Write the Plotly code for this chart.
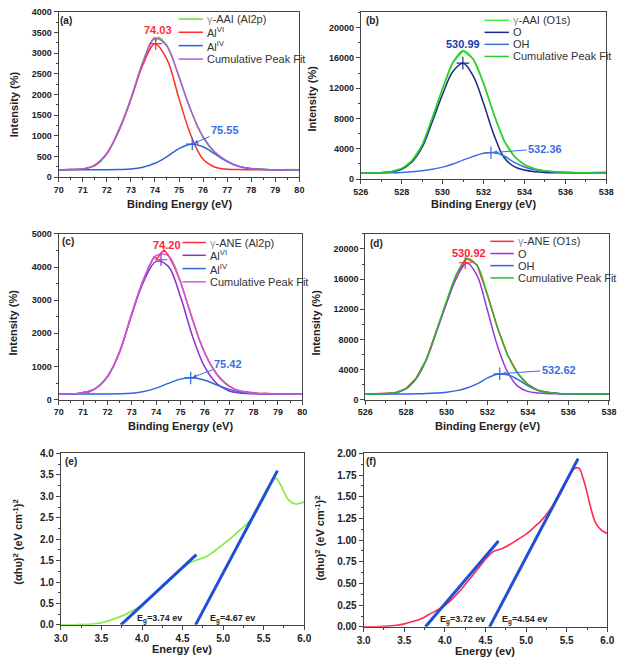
import plotly.graph_objects as go

W, H = 627, 664
FONT = "Liberation Sans, Arial, Helvetica, sans-serif"

# ------------------------------------------------------------------ DATA
AL_X = [70.0, 70.5, 71.0, 71.5, 72.0, 72.5, 73.0, 73.5, 74.0, 74.5, 75.0,
        75.5, 76.0, 76.5, 77.0, 77.5, 78.0, 78.5, 79.0, 79.5, 80.0]
O_X = [526.0, 526.5, 527.0, 527.5, 528.0, 528.5, 529.0, 529.5, 530.0, 530.5,
       531.0, 531.5, 532.0, 532.5, 533.0, 533.5, 534.0, 534.5, 535.0, 535.5,
       536.0, 536.5, 537.0, 537.5, 538.0]

# (a) gamma-AAI Al2p
a_data_x = [70.0, 70.25, 70.5, 70.75, 71.0, 71.25, 71.5, 71.75, 72.0, 72.25, 72.5,
            72.75, 73.0, 73.25, 73.5, 73.75, 73.95, 74.03, 74.15, 74.3, 74.5, 74.75,
            75.0, 75.25, 75.5, 75.75, 76.0, 76.25, 76.5, 76.75, 77.0, 77.25, 77.5,
            77.75, 78.0, 78.25, 78.5, 78.75, 79.0, 79.25, 79.5, 79.75, 80.0]
a_data = [170, 182, 178, 190, 192, 230, 270, 380, 565, 820, 1140, 1490, 1900, 2360,
          2800, 3180, 3370, 3290, 3390, 3330, 3190, 2840, 2450, 2000, 1620, 1230, 950,
          740, 580, 470, 395, 300, 255, 220, 210, 195, 190, 182, 180, 172, 185, 178, 180]
a_alvi = [178, 183, 195, 290, 570, 1120, 1880, 2720, 3230, 2850, 1900, 1000, 430, 240,
          192, 182, 180, 178, 178, 178, 178]
a_aliv = [175, 176, 177, 178, 180, 185, 195, 240, 335, 495, 690, 795, 735, 556, 375,
          255, 205, 185, 180, 178, 178]
a_fit = [178, 182, 195, 292, 572, 1125, 1897, 2782, 3360, 3170, 2420, 1600, 980, 600,
         385, 260, 205, 186, 180, 178, 178]
a_peak_x = [74.03, 75.55]
a_peak_y = [3230, 800]

# (b) gamma-AAI O1s
b_data = [780, 820, 860, 1000, 1390, 2420, 4480, 8120, 11950, 15400, 16920, 15850,
          12650, 8580, 5120, 3020, 1880, 1360, 1080, 960, 880, 860, 880, 920, 950]
b_o = [800, 810, 840, 980, 1300, 2250, 4200, 7600, 11200, 14200, 15300, 13600, 10000,
       5900, 2850, 1650, 1200, 980, 880, 840, 820, 810, 810, 800, 800]
b_oh = [800, 800, 810, 830, 870, 960, 1100, 1300, 1580, 1980, 2500, 3000, 3400, 3500,
        3050, 2200, 1600, 1230, 1020, 920, 870, 840, 820, 810, 810]
b_fit = [800, 810, 850, 1010, 1370, 2410, 4500, 8100, 11980, 15380, 16950, 15800,
         12600, 8600, 5100, 3000, 1900, 1350, 1090, 960, 890, 850, 830, 810, 810]
b_peak_x = [530.99, 532.36]
b_peak_y = [15300, 3480]

# (c) gamma-ANE Al2p
c_data_x = [70.0, 70.25, 70.5, 70.75, 71.0, 71.25, 71.5, 71.75, 72.0, 72.25, 72.5,
            72.75, 73.0, 73.25, 73.5, 73.75, 73.9, 74.05, 74.2, 74.33, 74.5, 74.75,
            75.0, 75.25, 75.5, 75.75, 76.0, 76.25, 76.5, 76.75, 77.0, 77.25, 77.5,
            77.75, 78.0, 78.25, 78.5, 78.75, 79.0, 79.25, 79.5, 79.75, 80.0]
c_data = [175, 168, 182, 178, 220, 232, 330, 470, 690, 1010, 1440, 1990, 2600, 3150,
          3660, 4050, 4300, 4260, 4420, 4510, 4360, 4000, 3560, 2980, 2400, 1860, 1400,
          1040, 760, 560, 410, 310, 255, 225, 200, 186, 190, 175, 165, 180, 168, 175, 170]
c_alvi = [170, 175, 212, 335, 690, 1430, 2580, 3580, 4170, 4020, 3100, 1900, 980, 480,
          260, 195, 176, 171, 170, 170, 170]
c_aliv = [170, 170, 170, 170, 171, 177, 196, 248, 348, 491, 619, 658, 584, 443, 310,
          226, 188, 174, 170, 170, 170]
c_fit = [170, 175, 212, 335, 691, 1437, 2606, 3658, 4348, 4341, 3549, 2388, 1394, 753,
         400, 251, 194, 175, 170, 170, 170]
c_peak_x = [74.20, 75.42]
c_peak_y = [4220, 655]

# (d) gamma-ANE O1s
d_data = [720, 780, 820, 930, 1480, 2850, 5330, 9150, 13100, 16700, 18750, 17900,
          14050, 9650, 5950, 3520, 2050, 1230, 980, 820, 800, 760, 780, 740, 760]
d_o = [750, 758, 785, 935, 1430, 2780, 5250, 8950, 12800, 16200, 18150, 16500, 12000,
       7200, 3700, 1800, 1100, 880, 800, 770, 760, 755, 750, 750, 750]
d_oh = [730, 730, 735, 740, 750, 770, 810, 880, 1000, 1200, 1550, 2100, 2850, 3380,
        3320, 2700, 1850, 1250, 950, 830, 780, 760, 750, 750, 750]
d_fit = [750, 760, 790, 945, 1450, 2820, 5350, 9100, 13100, 16650, 18700, 17800, 14000,
         9600, 6000, 3500, 2000, 1250, 950, 830, 785, 765, 755, 750, 750]
d_peak_x = [530.92, 532.62]
d_peak_y = [18170, 3430]

# (e) Tauc plot gamma-AAI
e_x = [3.0, 3.1, 3.2, 3.3, 3.4, 3.5, 3.6, 3.7, 3.8, 3.9, 4.0, 4.1, 4.2, 4.3, 4.4, 4.5,
       4.6, 4.7, 4.8, 4.9, 5.0, 5.1, 5.2, 5.3, 5.4, 5.5, 5.6, 5.65, 5.7, 5.75, 5.8,
       5.85, 5.9, 5.95, 6.0]
e_y = [0, 0, 0.005, 0.01, 0.02, 0.05, 0.1, 0.17, 0.25, 0.35, 0.46, 0.63, 0.8, 0.97,
       1.15, 1.33, 1.46, 1.53, 1.6, 1.73, 1.88, 2.03, 2.2, 2.37, 2.63, 2.95, 3.35, 3.42,
       3.3, 3.1, 2.93, 2.85, 2.82, 2.84, 2.87]
e_t1_x, e_t1_y = [3.74, 4.67], [0.0, 1.64]
e_t2_x, e_t2_y = [4.66, 5.67], [0.0, 3.6]

# (f) Tauc plot gamma-ANE
f_x = [3.0, 3.1, 3.2, 3.3, 3.4, 3.5, 3.6, 3.7, 3.8, 3.9, 4.0, 4.1, 4.2, 4.3, 4.4, 4.5,
       4.6, 4.7, 4.8, 4.9, 5.0, 5.1, 5.2, 5.3, 5.4, 5.5, 5.55, 5.6, 5.65, 5.7, 5.75,
       5.8, 5.85, 5.9, 5.95, 6.0]
f_y = [0, 0, 0.002, 0.008, 0.018, 0.034, 0.06, 0.09, 0.14, 0.19, 0.245, 0.33, 0.43,
       0.545, 0.66, 0.78, 0.87, 0.9, 0.95, 1.01, 1.07, 1.15, 1.24, 1.36, 1.5, 1.68,
       1.77, 1.83, 1.83, 1.72, 1.55, 1.36, 1.21, 1.14, 1.1, 1.08]
f_t1_x, f_t1_y = [3.76, 4.66], [0.0, 0.99]
f_t2_x, f_t2_y = [4.55, 5.64], [0.0, 1.94]

# ------------------------------------------------------------------ STYLE
A_GREEN, A_RED, A_BLUE, A_PURPLE = "#5fe03a", "#ff2b2b", "#2f62d6", "#b456e6"
B_LGREEN, B_NAVY, B_BLUE, B_GREEN = "#3cf03c", "#1b2a85", "#3a6fe0", "#2ecc2e"
C_RED, C_VIOLET, C_BLUE, C_PINK = "#ff2a40", "#8a30d8", "#2d66dd", "#c85cd8"
D_RED, D_VIOLET, D_BLUE, D_GREEN = "#ff2a40", "#9a35dd", "#2d66e8", "#2cba2c"
E_GREEN, T_BLUE, F_RED = "#7cec3a", "#1f4fd6", "#ff2a50"
AX = "#444444"


def px(x):
    return x / W


def py(y):
    return 1 - y / H


# panel boxes in page pixels: left, top, right, bottom
PANELS = [
    dict(box=(52, 6, 299, 174), xr=[70, 80], yr=[0, 4000], xd=1, xm=0.5, yd=500, ym=250,
         yfmt="d", xfmt="d", tf=9),
    dict(box=(362, 6.5, 614, 176), xr=[526, 538], yr=[0, 22000], xd=2, xm=1, yd=4000,
         ym=2000, yfmt="d", xfmt="d", tf=9),
    dict(box=(52, 231.7, 302, 400.3), xr=[70, 80], yr=[0, 5000], xd=1, xm=0.5, yd=1000,
         ym=500, yfmt="d", xfmt="d", tf=9),
    dict(box=(366.7, 231.7, 616.7, 400.3), xr=[526, 538], yr=[0, 22000], xd=2, xm=1,
         yd=4000, ym=2000, yfmt="d", xfmt="d", tf=9),
    dict(box=(54.3, 455, 304, 629.3), xr=[3, 6], yr=[0, 4], xd=0.5, xm=0.25, yd=0.5,
         ym=0.25, yfmt=".1f", xfmt=".1f", tf=10),
    dict(box=(365, 455, 615, 631.3), xr=[3, 6], yr=[0, 2], xd=0.5, xm=0.25, yd=0.25,
         ym=0.125, yfmt=".2f", xfmt=".1f", tf=10),
]

fig = go.Figure()
layout = dict(width=W, height=H, margin=dict(l=0, r=0, t=0, b=0),
              paper_bgcolor="white", plot_bgcolor="white", showlegend=False,
              font=dict(family=FONT, color="#222"))

for i, p in enumerate(PANELS):
    n = "" if i == 0 else str(i + 1)
    l, t, r, b = p["box"]
    tickfont = dict(family=FONT, size=p["tf"], color="#222", weight="bold")
    common = dict(showline=True, mirror=True, linecolor=AX, linewidth=1, ticks="outside",
                  ticklen=4, tickwidth=1, tickcolor=AX, showgrid=False, zeroline=False,
                  tickfont=tickfont)
    layout["xaxis" + n] = dict(domain=[px(l), px(r)], anchor="y" + n, range=p["xr"],
                               dtick=p["xd"], tick0=p["xr"][0], tickformat=p["xfmt"],
                               minor=dict(dtick=p["xm"], ticks="outside", ticklen=2,
                                          tickcolor=AX, showgrid=False), **common)
    layout["yaxis" + n] = dict(domain=[py(b), py(t)], anchor="x" + n, range=p["yr"],
                               dtick=p["yd"], tick0=0, tickformat=p["yfmt"],
                               minor=dict(dtick=p["ym"], ticks="outside", ticklen=2,
                                          tickcolor=AX, showgrid=False), **common)


def add_line(x, y, color, ax, width=1.5, shape="spline"):
    fig.add_trace(go.Scatter(x=x, y=y, mode="lines", xaxis="x" + ax, yaxis="y" + ax,
                             line=dict(color=color, width=width, shape=shape, smoothing=1),
                             hoverinfo="skip"))


def add_peaks(x, y, colors, ax):
    fig.add_trace(go.Scatter(x=x, y=y, mode="markers", xaxis="x" + ax, yaxis="y" + ax,
                             marker=dict(symbol="cross-thin", size=9,
                                         line=dict(width=1.2, color=colors)),
                             hoverinfo="skip"))


# (a)
add_line(a_data_x, a_data, A_GREEN, "", shape="linear")
add_line(AL_X, a_alvi, A_RED, "")
add_line(AL_X, a_aliv, A_BLUE, "")
add_line(AL_X, a_fit, A_PURPLE, "")
add_peaks(a_peak_x, a_peak_y, [A_RED, A_BLUE], "")
# (b)
add_line(O_X, b_data, B_LGREEN, "2", shape="linear")
add_line(O_X, b_o, B_NAVY, "2")
add_line(O_X, b_oh, B_BLUE, "2")
add_line(O_X, b_fit, B_GREEN, "2")
add_peaks(b_peak_x, b_peak_y, [B_NAVY, B_BLUE], "2")
# (c)
add_line(c_data_x, c_data, C_RED, "3", shape="linear")
add_line(AL_X, c_alvi, C_VIOLET, "3")
add_line(AL_X, c_aliv, C_BLUE, "3")
add_line(AL_X, c_fit, C_PINK, "3")
add_peaks(c_peak_x, c_peak_y, [C_VIOLET, C_BLUE], "3")
# (d)
add_line(O_X, d_data, D_RED, "4", shape="linear")
add_line(O_X, d_o, D_VIOLET, "4")
add_line(O_X, d_oh, D_BLUE, "4")
add_line(O_X, d_fit, D_GREEN, "4")
add_peaks(d_peak_x, d_peak_y, [D_RED, D_BLUE], "4")
# (e)
add_line(e_x, e_y, E_GREEN, "5", width=1.6)
add_line(e_t1_x, e_t1_y, T_BLUE, "5", width=3, shape="linear")
add_line(e_t2_x, e_t2_y, T_BLUE, "5", width=3, shape="linear")
# (f)
add_line(f_x, f_y, F_RED, "6", width=1.6)
add_line(f_t1_x, f_t1_y, T_BLUE, "6", width=3, shape="linear")
add_line(f_t2_x, f_t2_y, T_BLUE, "6", width=3, shape="linear")

annotations = []
shapes = []


def note(text, x, y, size=10, color="#222", angle=0, xanchor="center", yanchor="middle",
         bold=True):
    annotations.append(dict(text=("<b>%s</b>" % text) if bold else text,
                            x=px(x), y=py(y), xref="paper", yref="paper",
                            showarrow=False, textangle=angle, xanchor=xanchor,
                            yanchor=yanchor, font=dict(family=FONT, size=size, color=color)))


def data_note(text, x, y, ax, color, size=11):
    annotations.append(dict(text="<b>%s</b>" % text, x=x, y=y, xref="x" + ax,
                            yref="y" + ax, showarrow=False,
                            font=dict(family=FONT, size=size, color=color)))


def arrow_note(text, hx, hy, tx, ty, ax, color, size=11):
    annotations.append(dict(text="<b>%s</b>" % text, x=hx, y=hy, ax=tx, ay=ty,
                            xref="x" + ax, yref="y" + ax, axref="x" + ax, ayref="y" + ax,
                            showarrow=True, arrowhead=2, arrowsize=0.8, arrowwidth=1,
                            arrowcolor=color, standoff=2,
                            font=dict(family=FONT, size=size, color=color)))


# peak labels
data_note("74.03", 74.11, 3570, "", "#ff3030")
arrow_note("75.55", 75.55, 800, 76.92, 1143, "", "#3a6fe0")
data_note("530.99", 531.02, 17830, "2", "#1a3aa8")
arrow_note("532.36", 532.36, 3480, 535.02, 4030, "2", "#3a6fe0")
data_note("74.20", 74.44, 4656, "3", "#ff2040")
arrow_note("75.42", 75.42, 655, 76.96, 1076, "3", "#3a6fe0")
data_note("530.92", 531.1, 19500, "4", "#ff2040")
arrow_note("532.62", 532.62, 3430, 535.52, 3990, "4", "#3a6fe0")

# band-gap labels
data_note("E<sub>g</sub>=3.74 ev", 4.22, 0.14, "5", "#222", size=9)
data_note("E<sub>g</sub>=4.67 ev", 5.11, 0.14, "5", "#222", size=9)
data_note("E<sub>g</sub>=3.72 ev", 4.22, 0.08, "6", "#222", size=9)
data_note("E<sub>g</sub>=4.54 ev", 4.98, 0.08, "6", "#222", size=9)

# panel letters
for lab, (x, y) in zip(["(a)", "(b)", "(c)", "(d)", "(e)", "(f)"],
                       [(60, 15), (374, 15), (61.7, 239.5), (378, 241.7), (65, 463),
                        (373, 463)]):
    note(lab, x, y, size=10)

# axis titles
for x, y in [(175.5, 201), (488, 201.5), (177, 426.7), (492, 426.7)]:
    note("Binding Energy (eV)", x, y, size=11)
for x, y in [(179, 654), (490, 656)]:
    note("Energy (ev)", x, y, size=11)
for x, y in [(6, 100), (312, 94), (5, 322), (316, 322)]:
    note("Intensity (%)", x, y, size=11, angle=-90)
for x, y in [(10, 545), (320, 541)]:
    note("(αhυ)<sup>2</sup> (eV cm<sup>-1</sup>)<sup>2</sup>", x, y, size=11, angle=-90)

# legends (line sample + text) for the XPS panels
GAM = '<span style="color:#999">γ</span>'
LEGENDS = [
    dict(x0=175, x1=200, tx=202, rows=[13.3, 26.7, 40.3, 54],
         items=[(GAM + "-AAI (Al2p)", A_GREEN), ("Al<sup>VI</sup>", A_RED),
                ("Al<sup>IV</sup>", A_BLUE), ("Cumulative Peak Fit", A_PURPLE)]),
    dict(x0=489, x1=514, tx=516, rows=[14.5, 26.8, 39.0, 51.3],
         items=[(GAM + "-AAI (O1s)", B_LGREEN), ("O", B_NAVY), ("OH", B_BLUE),
                ("Cumulative Peak Fit", B_GREEN)]),
    dict(x0=179, x1=203, tx=205, rows=[240.5, 253.5, 267, 280.5],
         items=[(GAM + "-ANE (Al2p)", C_RED), ("Al<sup>VI</sup>", C_VIOLET),
                ("Al<sup>IV</sup>", C_BLUE), ("Cumulative Peak Fit", C_PINK)]),
    dict(x0=495, x1=519, tx=521.5, rows=[239.3, 251.7, 264, 276.5],
         items=[(GAM + "-ANE (O1s)", D_RED), ("O", D_VIOLET), ("OH", D_BLUE),
                ("Cumulative Peak Fit", D_GREEN)]),
]
for lg in LEGENDS:
    for (label, color), yrow in zip(lg["items"], lg["rows"]):
        shapes.append(dict(type="line", xref="paper", yref="paper", x0=px(lg["x0"]),
                           x1=px(lg["x1"]), y0=py(yrow), y1=py(yrow),
                           line=dict(color=color, width=1.5)))
        note(label, lg["tx"], yrow, size=11, color="#333", xanchor="left", bold=False)

layout["annotations"] = annotations
layout["shapes"] = shapes
fig.update_layout(**layout)
fig.write_html("out.html",
               config={"displayModeBar": False},
               post_script="document.body.style.margin='0px';"
                           "document.body.style.overflow='hidden';")
